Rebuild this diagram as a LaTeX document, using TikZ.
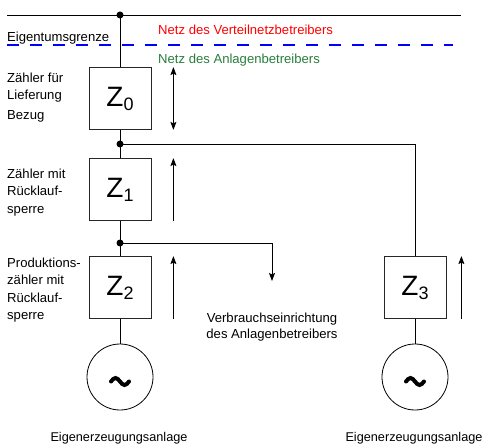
\documentclass[tikz,border=0pt]{standalone}
\usepackage{fontspec}
\setmainfont{Liberation Sans}
\usetikzlibrary{arrows.meta}
\definecolor{netzrot}{RGB}{255,0,0}
\definecolor{netzgruen}{RGB}{40,125,60}
\definecolor{grenzblau}{RGB}{0,0,255}
\newcommand\zlab[1]{{\fontsize{28}{28}\selectfont Z\raisebox{-4pt}{\fontsize{18}{18}\selectfont #1}}}
\begin{document}
\begin{tikzpicture}[x=1pt,y=-1pt,
  font=\fontsize{13.1}{17.5}\selectfont,
  zbox/.style={draw=black!85, line width=0.8pt, minimum size=62pt, inner sep=0pt},
  gen/.style={draw, circle, line width=0.8pt, minimum size=66pt, inner sep=0pt},
  txt/.style={inner sep=0pt, align=left, anchor=north west},
  arr/.style={line width=0.8pt, -{Stealth[length=8pt,width=6pt,inset=1.5pt]}},
  arrtwo/.style={line width=0.8pt, {Stealth[length=8pt,width=6pt,inset=1.5pt]}-{Stealth[length=8pt,width=6pt,inset=1.5pt]}},
  tilde/.style={line width=4pt, line cap=round}]
\useasboundingbox (0,0) rectangle (487,446);
% netz and eigentumsgrenze
\coordinate (busl) at (7,15);
\coordinate (busr) at (461,15);
\draw[line width=0.8pt] (busl) -- (busr);
\draw[grenzblau, line width=2pt, dash pattern=on 12pt off 11pt] (7,45.5) -- (453,45.5);
\node[inner sep=0pt, anchor=base west] (grenze) at (7,42) {Eigentumsgrenze};
\node[inner sep=0pt, anchor=base west, text=netzrot] (vnb) at (158,35) {Netz des Verteilnetzbetreibers};
\node[inner sep=0pt, anchor=base west, text=netzgruen] (anb) at (158,64) {Netz des Anlagenbetreibers};
% zaehler
\node[zbox] (z0) at (120,98.5) {\zlab{0}};
\node[zbox] (z1) at (120,189.5) {\zlab{1}};
\node[zbox] (z2) at (120,287.5) {\zlab{2}};
\node[zbox] (z3) at (415,287.5) {\zlab{3}};
\node[gen] (g2) at (120,377) {};
\node[gen] (g3) at (415,377) {};
\coordinate (bus) at (120,15);
\coordinate (d1) at (120,144);
\coordinate (d2) at (120,243);
\coordinate (verbpfeil) at (272,281);
% left labels
\node[txt] (l0) at (7,72.5) {Zähler für\\Lieferung\\[2pt]Bezug};
\node[txt] (l1) at (7,168.5) {Zähler mit\\Rücklauf-\\sperre};
\node[txt] (l2) at (7,257.5) {Produktions-\\zähler mit\\Rücklauf-\\sperre};
\node[inner sep=0pt, align=center, font=\fontsize{13.1}{16.5}\selectfont] (verb) at (272,327) {Verbrauchseinrichtung\\des Anlagenbetreibers};
\node[inner sep=0pt, anchor=base, font=\fontsize{12.7}{15}\selectfont] (e2) at (119,441) {Eigenerzeugungsanlage};
\node[inner sep=0pt, anchor=base, font=\fontsize{12.7}{15}\selectfont] (e3) at (414,441) {Eigenerzeugungsanlage};
% leitungen
\draw[line width=0.8pt] (bus) -- (z0);
\draw[line width=0.8pt] (z0) -- (z1);
\draw[line width=0.8pt] (z1) -- (z2);
\draw[line width=0.8pt] (z2) -- (g2);
\draw[line width=0.8pt] (z3) -- (g3);
\draw[line width=0.8pt] (d1) -| (z3);
\draw[arr] (d2) -| (verbpfeil);
\foreach \k in {bus,d1,d2}
  \fill (\k) circle (3.5pt);
% energiefluss
\draw[arrtwo] ([xshift=22pt]z0.south east) -- ([xshift=22pt]z0.north east);
\foreach \n/\d in {1/22,2/22,3/15}
  \draw[arr] ([xshift=\d pt]z\n.south east) -- ([xshift=\d pt]z\n.north east);
% generatoren
\foreach \g in {g2,g3}
  \draw[tilde, shift={(\g.center)}] (-9,4.5) sin (-4.5,1) cos (0,4.5) sin (4.5,8) cos (9,4.5);
\end{tikzpicture}
\end{document}
